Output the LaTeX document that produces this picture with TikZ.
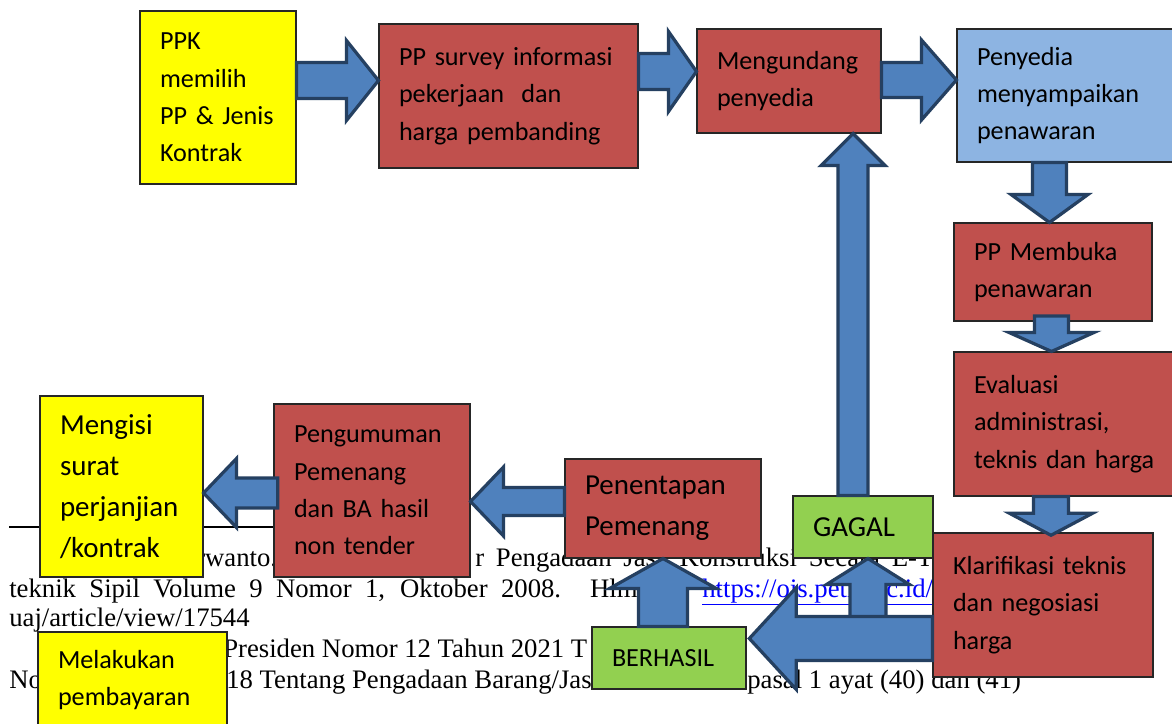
\documentclass[tikz,border=0pt]{standalone}
\usepackage{fontspec}
\setmainfont{Liberation Serif}
\newfontfamily\boxfont{Carlito}
\usetikzlibrary{calc}
\newlength\px
\setlength\px{0.025cm}
\newcommand\normalbox{\boxfont\fontsize{18.6}{26.5}\selectfont}
\newcommand\bigbox{\boxfont\fontsize{20.6}{29.2}\selectfont}
\newcommand\notesize{\fontsize{19}{22}\selectfont}
\definecolor{cardred}{RGB}{192,80,77}
\definecolor{cardyellow}{RGB}{255,255,0}
\definecolor{cardblue}{RGB}{141,180,226}
\definecolor{cardgreen}{RGB}{146,208,80}
\definecolor{flowfill}{RGB}{79,129,189}
\definecolor{flowline}{RGB}{37,64,97}
\definecolor{linkblue}{RGB}{0,0,255}
\hyphenpenalty=10000

\begin{document}
\begin{tikzpicture}[x=0.025cm, y=-0.025cm,
  card/.style={draw=black!85, line width=.75pt, inner xsep=0pt, inner ysep=0pt,
               align=left, font=\normalbox},
  wh/.style 2 args={minimum width=#1*0.025cm, minimum height=#2*0.025cm,
                    text width=(#1-40)*0.025cm},
  ycard/.style={card, fill=cardyellow},
  rcard/.style={card, fill=cardred},
  bcard/.style={card, fill=cardblue},
  gcard/.style={card, fill=cardgreen},
  bigtext/.style={font=\bigbox},
  flow/.style n args={3}{draw=flowline, fill=flowfill, line width=2.3pt,
    to path={($(\tikztostart)!#1*0.025cm!90:(\tikztotarget)$)
      -- ($($(\tikztotarget)!#3*0.025cm!(\tikztostart)$)!#1*0.025cm!90:(\tikztotarget)$)
      -- ($($(\tikztotarget)!#3*0.025cm!(\tikztostart)$)!#2*0.025cm!90:(\tikztotarget)$)
      -- (\tikztotarget)
      -- ($($(\tikztotarget)!#3*0.025cm!(\tikztostart)$)!#2*0.025cm!-90:(\tikztotarget)$)
      -- ($($(\tikztotarget)!#3*0.025cm!(\tikztostart)$)!#1*0.025cm!-90:(\tikztotarget)$)
      -- ($(\tikztostart)!#1*0.025cm!-90:(\tikztotarget)$) -- cycle}},
  note/.style={anchor=base west, inner sep=0pt, font=\notesize}
]
\useasboundingbox (0,0) rectangle (1172,724);
\fill[white] (0,0) rectangle (1172,724);

\draw[line width=.8pt] (9,527) -- (330,527);
\node[note] (fnwanto) at (196,566) {rwanto.};
\node[note] (fnjasa) at (475,566) {\makebox[458\px][s]{r Pengadaan Jasa Konstruksi Secara E-T}};
\node[note] (fnvol) at (9,597) {\makebox[635\px][s]{teknik Sipil Volume 9 Nomor 1, Oktober 2008. Hlm.}};
\node[note, text=linkblue] (fnlink) at (702,597) {\underline{https://ojs.petra.ac.id/}};
\node[note] (fnview) at (9,626) {uaj/article/view/17544};
\node[note] (fnperpres) at (223,657) {Presiden Nomor 12 Tahun 2021 T};
\node[note] (fnno) at (9,688) {No};
\node[note] (fnbarang) at (226,688) {18 Tentang Pengadaan Barang/Jas};
\node[note] (fnpasal) at (747,688) {pasal 1 ayat (40) dan (41)};

\node[ycard, wh={156}{173}] (ppk) at (218,97.5) {PPK\\memilih\\PP \& Jenis\\Kontrak};
\node[rcard, wh={259}{144}] (survey) at (508.5,96) {PP survey informasi\\pekerjaan\ \ dan\\harga pembanding};
\node[rcard, wh={184}{104}] (undang) at (789,81) {Mengundang\\penyedia};
\node[bcard, wh={223}{133}] (tawar) at (1068.5,95.5) {Penyedia\\menyampaikan\\penawaran};
\node[rcard, wh={198}{98}] (buka) at (1053,272) {PP Membuka\\penawaran};
\node[rcard, wh={226}{144}] (eval) at (1067,424) {Evaluasi\\administrasi,\\teknis dan harga};
\node[rcard, wh={220}{144}] (klar) at (1043,605) {Klarifikasi teknis\\dan negosiasi\\harga};
\node[gcard, bigtext, wh={140}{62}] (gagal) at (863,527) {GAGAL};
\node[gcard, wh={154}{62}] (berhasil) at (669,658) {BERHASIL};
\node[rcard, bigtext, wh={196}{99}] (tetap) at (663,508.5) {Penentapan\\Pemenang};
\node[rcard, wh={196}{173}] (umum) at (372,490.5) {Pengumuman\\Pemenang\\dan BA hasil\\non tender};
\node[ycard, bigtext, wh={163}{181}] (isi) at (121.5,486.5) {Mengisi\\surat\\perjanjian\\/kontrak};
\node[ycard, wh={189}{96}] (bayar) at (132.5,680) {Melakukan\\pembayaran};

\coordinate (fork) at (868,620);
\draw[flow={18}{40}{32}] (ppk.east |- 0,80.5) to (survey.west |- 0,80.5);
\draw[flow={18}{40}{28}] (survey.east |- 0,71.5) to (undang.west |- 0,71.5);
\draw[flow={17.5}{40}{35}] (undang.east |- 0,80) to (tawar.west |- 0,80);
\draw[flow={17}{38.5}{28}] (tawar.south -| 1049.5,0) to (buka.north -| 1049.5,0);
\draw[flow={17}{42.5}{19}] ([yshift=4pt]buka.south -| 1051.5,0) to (eval.north -| 1051.5,0);
\draw[flow={17.5}{41.5}{22}] (eval.south -| 1051,0) to ([yshift=-2pt]klar.north -| 1051,0);
\draw[flow={18}{41.5}{26}] (fork) to (gagal.south -| fork);
\draw[flow={22}{51}{47}] (klar.west |- 0,638.5) to ([xshift=2pt]berhasil.east |- 0,638.5);
\draw[flow={15}{32}{32}] (gagal.north -| 853,0) to (undang.south -| 853,0);
\draw[flow={24.5}{53.5}{30}] (berhasil.north -| 663,0) to (tetap.south -| 663,0);
\draw[flow={14}{34.5}{33}] (tetap.west |- 0,501.5) to (umum.east |- 0,501.5);
\draw[flow={15}{34.5}{33}] ([xshift=3pt]umum.west |- 0,493) to (isi.east |- 0,493);
\end{tikzpicture}
\end{document}
